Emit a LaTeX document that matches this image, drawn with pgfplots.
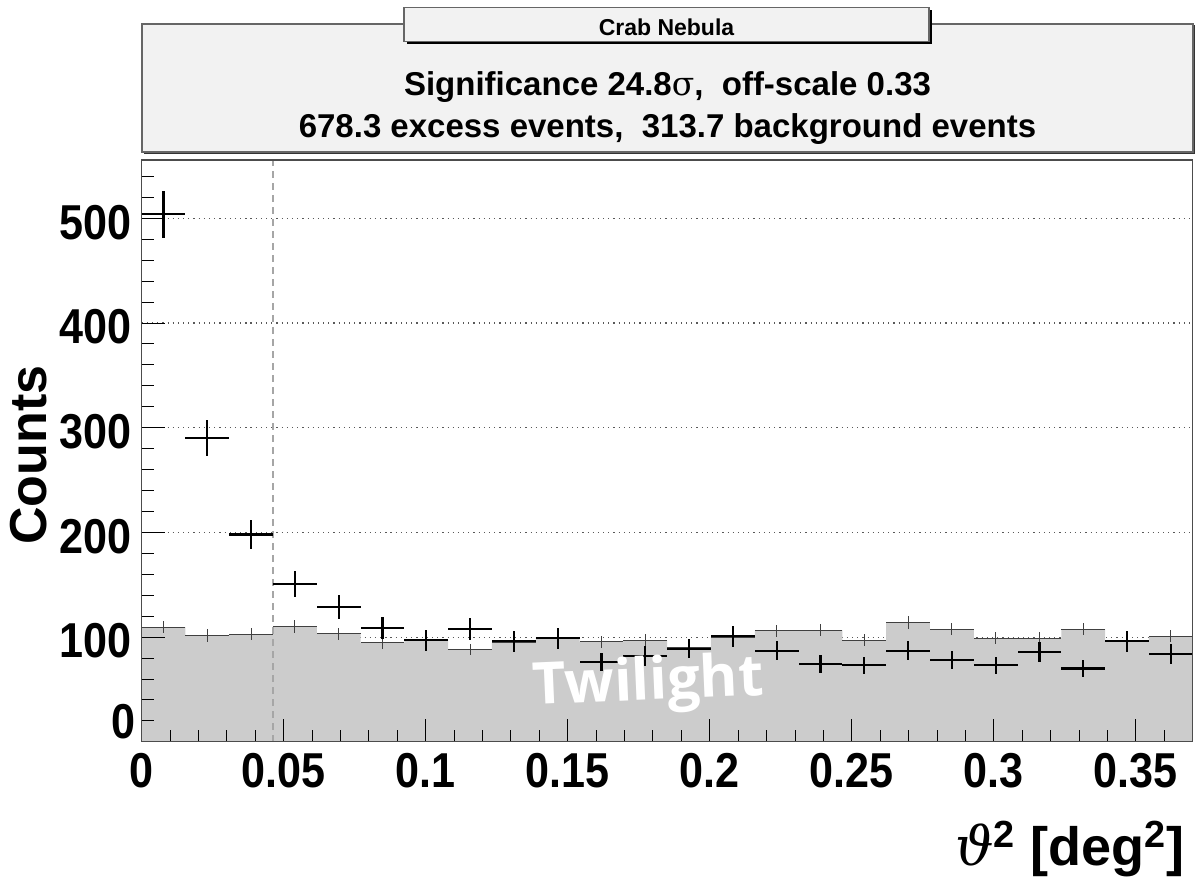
\documentclass[border=0pt]{standalone}
\usepackage{fontspec}
\setmainfont{Liberation Sans}
\newfontfamily\tickfont{Liberation Sans}[FakeStretch=0.88]
\newfontfamily\labelfont{Open Sans}
\newfontfamily\greekfont{DejaVu Serif}
\usepackage{pgfplots}
\usepackage{pgfplotstable}
\pgfplotsset{compat=1.18}

\definecolor{histgray}{gray}{0.80}
\definecolor{panegray}{gray}{0.95}

% theta^2 histogram: bin centre, scaled off counts (+error), on counts (+error)
\pgfplotstableread{
x        bg     bgerr  on   onerr
0.00771  109.5  6.0    504  22.4
0.02313  101.5  5.8    290  17.0
0.03854  102.7  5.8    198  14.1
0.05396  110.3  6.0    151  12.3
0.06938  103.3  5.8    129  11.4
0.08479   94.4  5.6    109  10.4
0.10021   97.2  5.7     97   9.8
0.11563   88.0  5.4    108  10.4
0.13104   94.5  5.6     96   9.8
0.14646   99.0  5.7     99   9.9
0.16188   95.6  5.6     76   8.7
0.17729   97.0  5.7     82   9.1
0.19271   90.0  5.4     89   9.4
0.20813  100.0  5.7    101  10.0
0.22354  106.0  5.9     87   9.3
0.23896  106.8  5.9     74   8.6
0.25438   97.2  5.7     73   8.5
0.26979  114.1  6.1     87   9.3
0.28521  107.7  6.0     78   8.8
0.30063   98.8  5.7     73   8.5
0.31604   98.8  5.7     86   9.3
0.33146  107.7  6.0     70   8.4
0.34688   97.2  5.7     96   9.8
0.36229  100.8  5.8     84   9.2
}\thetatab

% same off histogram, by left bin edge (last row closes the final bin)
\pgfplotstableread{
edge     bg
0.00000  109.5
0.01542  101.5
0.03083  102.7
0.04625  110.3
0.06167  103.3
0.07708   94.4
0.09250   97.2
0.10792   88.0
0.12333   94.5
0.13875   99.0
0.15417   95.6
0.16958   97.0
0.18500   90.0
0.20042  100.0
0.21583  106.0
0.23125  106.8
0.24667   97.2
0.26208  114.1
0.27750  107.7
0.29292   98.8
0.30833   98.8
0.32375  107.7
0.33917   97.2
0.35458  100.8
0.37000  100.8
}\bgedges

\begin{document}
\begin{tikzpicture}
\begin{scope}[x=0.5bp,y=-0.5bp]
\useasboundingbox (0,0) rectangle (1202,873);
% statistics pane
\fill[black!80] (143.5,25.5) rectangle (1194.5,153.5);
\filldraw[fill=panegray, draw=black!60, line width=0.6bp] (142,24) rectangle (1193,152);
\node[anchor=base, font=\fontsize{16.5bp}{18bp}\selectfont\bfseries] at (667.5,96)
  {Significance 24.8{\greekfont\mdseries σ},\ \ off-scale 0.33};
\node[anchor=base, font=\fontsize{16.5bp}{18bp}\selectfont\bfseries] at (667.5,137)
  {678.3 excess events,\ \ 313.7 background events};
% title pane
\fill[black] (407,10.5) rectangle (932,44.5);
\filldraw[fill=panegray, draw=black!60, line width=0.6bp] (404,7.5) rectangle (929,41.5);
\node[anchor=base, font=\fontsize{11.5bp}{12bp}\selectfont\bfseries] at (666.5,36) {Crab Nebula};
\end{scope}

\begin{axis}[
  at={(70.8bp,-370.9bp)}, anchor=south west,
  scale only axis, width=525.55bp, height=290.9bp,
  xmin=0, xmax=0.37, ymin=0, ymax=555.7,
  axis on top, clip mode=individual,
  tick pos=left, tick align=inside,
  xtick={0,0.05,0.1,0.15,0.2,0.25,0.3,0.35},
  xticklabels={0,0.05,0.1,0.15,0.2,0.25,0.3,0.35},
  minor xtick={0.01,0.02,0.03,0.04,0.06,0.07,0.08,0.09,0.11,0.12,0.13,0.14,
    0.16,0.17,0.18,0.19,0.21,0.22,0.23,0.24,0.26,0.27,0.28,0.29,0.31,0.32,
    0.33,0.34,0.36},
  ytick={0,100,200,300,400,500},
  yticklabels={,100,200,300,400,500},
  minor ytick={20,40,60,80,120,140,160,180,220,240,260,280,320,340,360,380,
    420,440,460,480,520,540},
  major tick length=11.5bp, minor tick length=6bp,
  tick style={black, line width=0.5bp},
  tick label style={font=\tickfont\fontsize{24.5bp}{26bp}\selectfont\bfseries, inner sep=0pt},
  xticklabel shift=5.45bp, yticklabel shift=5bp,
  yticklabel style={yshift=-2bp},
  axis line style={black!70, line width=0.6bp},
]
% horizontal grid, behind the histogram
\pgfplotsinvokeforeach{100,200,300,400,500}{
  \addplot[black!65, dotted, line width=0.6bp, forget plot]
    coordinates {(0,#1) (0.37,#1)};
}
% scaled off-source histogram
\addplot[fill=histgray, draw=none, const plot mark left]
  table[x=edge, y=bg] {\bgedges} \closedcycle;
% theta^2 cut
\addplot[black!35, line width=0.6bp, dash pattern=on 3.5bp off 2.5bp]
  coordinates {(0.04625,0) (0.04625,555.7)};
% off-source error crosses
\addplot[draw=none, mark=none,
  error bars/.cd, x dir=both, x fixed=0.0077083, y dir=both, y explicit,
  error mark=none, error bar style={draw=black!75, line width=0.5bp}]
  table[x=x, y=bg, y error=bgerr] {\thetatab};
% on-source error crosses
\addplot[draw=none, mark=none,
  error bars/.cd, x dir=both, x fixed=0.0077083, y dir=both, y explicit,
  error mark=none, error bar style={draw=black, line width=1.1bp}]
  table[x=x, y=on, y error=onerr] {\thetatab};
\node[text=white, font=\labelfont\fontsize{29bp}{29bp}\selectfont\bfseries,
  rotate=2.5, anchor=base] at (axis cs:0.1785,40) {Twilight};
\node[anchor=east, inner sep=0pt, font=\tickfont\fontsize{24.5bp}{26bp}\selectfont\bfseries]
  at (axis cs:0,0) [xshift=-2.8bp, yshift=9.9bp] {0};
\end{axis}

\begin{scope}[x=0.5bp,y=-0.5bp]
\node[rotate=90, anchor=base, font=\fontsize{26bp}{28bp}\selectfont\bfseries]
  at (46,455) {Counts};
\node[anchor=base east, font=\fontsize{27bp}{30bp}\selectfont\bfseries]
  at (1192,865) {{\greekfont\mdseries\itshape ϑ}\textsuperscript{2} [deg\textsuperscript{2}]};
\end{scope}
\end{tikzpicture}
\end{document}
